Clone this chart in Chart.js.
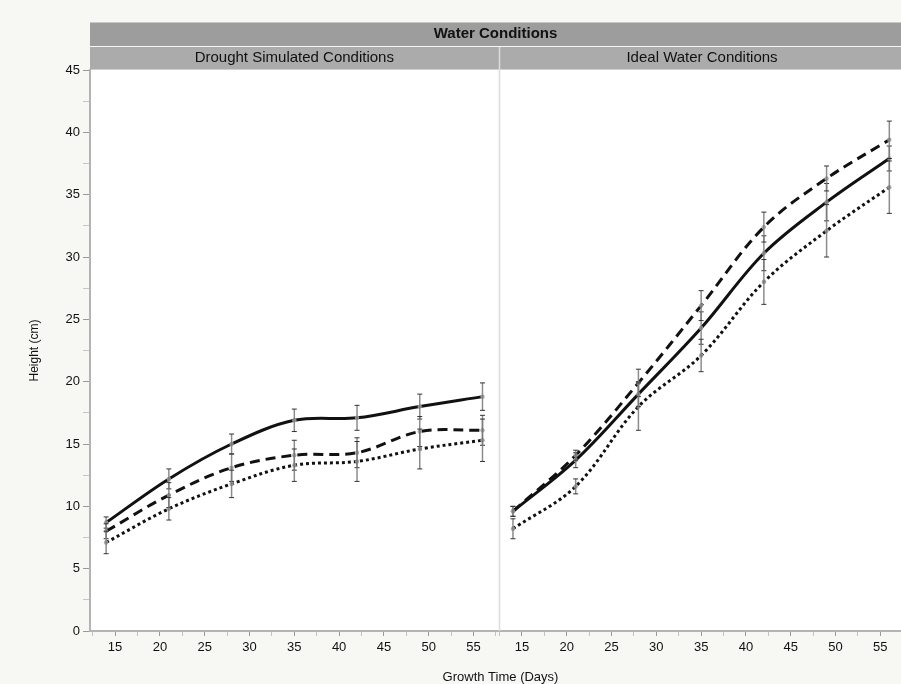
<!DOCTYPE html>
<html>
<head>
<meta charset="utf-8">
<script src="https://cdn.jsdelivr.net/npm/chart.js@4/dist/chart.umd.min.js"></script>
<style>
  html, body { margin: 0; padding: 0; background: #f7f7f3; overflow: hidden; width: 901px; height: 684px; }
  #wrap { position: absolute; left: 0; top: 0; width: 915px; height: 688px; }
</style>
</head>
<body>
<div id="wrap"><canvas id="c"></canvas></div>
<script>
// growth days (same for both panels)
var days = [14, 21, 28, 35, 42, 49, 56];
// each panel covers this day range; right panel sits panelShift days further on one x scale
var panelMin = 12.2, panelMax = 57.8;
var panelShift = 45.4;
var dayTicks = [15, 20, 25, 30, 35, 40, 45, 50, 55];

// drought simulated conditions
var droughtSolid  = [8.7, 12.2, 15.0, 16.9, 17.1, 18.0, 18.8];
var droughtDashed = [8.0, 10.9, 13.1, 14.1, 14.3, 16.0, 16.1];
var droughtDotted = [7.1, 9.8, 11.8, 13.3, 13.6, 14.6, 15.3];
var droughtSolidErr  = [0.45, 0.8, 0.8, 0.9, 1.0, 1.0, 1.1];
var droughtDashedErr = [0.6, 1.0, 1.1, 1.2, 1.2, 1.2, 1.2];
var droughtDottedErr = [0.9, 0.9, 1.1, 1.3, 1.6, 1.6, 1.7];

// ideal water conditions
var idealSolid  = [9.6, 13.7, 19.0, 24.3, 30.3, 34.4, 37.9];
var idealDashed = [9.6, 14.1, 19.9, 26.1, 32.4, 36.3, 39.4];
var idealDotted = [8.2, 11.6, 18.0, 22.1, 28.0, 32.1, 35.6];
var idealSolidErr  = [0.4, 0.6, 1.0, 1.3, 1.4, 1.5, 1.0];
var idealDashedErr = [0.4, 0.4, 1.1, 1.2, 1.2, 1.0, 1.5];
var idealDottedErr = [0.8, 0.6, 1.9, 1.3, 1.8, 2.1, 2.1];

var panelTitles = ['Drought Simulated Conditions', 'Ideal Water Conditions'];
var groupTitle = 'Water Conditions';

var FONT = '"Liberation Sans", Arial, Helvetica, sans-serif';

function pts(vals, shift) {
  return days.map(function (d, i) { return { x: d + shift, y: vals[i] }; });
}

function series(vals, errs, shift, dash) {
  return {
    data: pts(vals, shift),
    err: errs,
    borderColor: '#111',
    borderWidth: 3,
    borderDash: dash,
    tension: 0.35,
    pointRadius: 2.2,
    pointBackgroundColor: 'rgba(160,160,160,0.9)',
    pointBorderWidth: 0,
    fill: false
  };
}

// x ticks: majors at 15..55 and minors halfway, in both panels
function buildDayTicks(scale) {
  var out = [];
  [0, panelShift].forEach(function (s) {
    dayTicks.forEach(function (d) {
      if (d - 2.5 > panelMin) out.push({ value: d - 2.5 + s, major: false });
      out.push({ value: d + s, major: true, day: d });
    });
    out.push({ value: 57.5 + s, major: false });
  });
  scale.ticks = out;
}

// header bands, plot background and panel divider
var framePlugin = {
  id: 'frame',
  beforeDraw: function (chart) {
    var ctx = chart.ctx, a = chart.chartArea, x = chart.scales.x;
    var mid = x.getPixelForValue(panelMax);
    ctx.save();
    ctx.fillStyle = '#fff';
    ctx.fillRect(a.left, a.top, a.right - a.left, a.bottom - a.top);
    // top band
    ctx.fillStyle = '#9d9d9d';
    ctx.fillRect(a.left, a.top - 48, chart.width - a.left, 24);
    ctx.fillStyle = '#c8c8c8';
    ctx.fillRect(a.left, a.top - 48, chart.width - a.left, 1);
    // second band
    ctx.fillStyle = '#ababab';
    ctx.fillRect(a.left, a.top - 23, chart.width - a.left, 22);
    ctx.fillStyle = '#cfcfcf';
    ctx.fillRect(a.left, a.top - 1, chart.width - a.left, 1);
    ctx.fillStyle = '#111';
    ctx.textAlign = 'center';
    ctx.textBaseline = 'middle';
    ctx.font = 'bold 15px ' + FONT;
    ctx.fillText(groupTitle, (a.left + 901) / 2, a.top - 36);
    ctx.font = '15px ' + FONT;
    ctx.fillText(panelTitles[0], (a.left + mid) / 2, a.top - 12);
    ctx.fillText(panelTitles[1], (mid + x.getPixelForValue(panelMax + panelShift)) / 2, a.top - 12);
    ctx.restore();
  },
  afterDraw: function (chart) {
    var ctx = chart.ctx, a = chart.chartArea;
    var mid = Math.round(chart.scales.x.getPixelForValue(panelMax)) + 0.5;
    ctx.save();
    ctx.strokeStyle = '#dcdcdc';
    ctx.lineWidth = 1.5;
    ctx.beginPath();
    ctx.moveTo(mid, a.top - 23);
    ctx.lineTo(mid, a.bottom);
    ctx.stroke();
    ctx.restore();
  }
};

// error bars from each dataset's err array
var errorBarPlugin = {
  id: 'errorBars',
  afterDatasetsDraw: function (chart) {
    var ctx = chart.ctx, xs = chart.scales.x, ys = chart.scales.y;
    ctx.save();
    chart.data.datasets.forEach(function (ds) {
      ds.data.forEach(function (p, i) {
        var e = ds.err[i];
        var px = xs.getPixelForValue(p.x);
        var top = ys.getPixelForValue(p.y + e);
        var bot = ys.getPixelForValue(p.y - e);
        ctx.strokeStyle = 'rgba(120,120,120,0.85)';
        ctx.lineWidth = 1.5;
        ctx.beginPath();
        ctx.moveTo(px, top);
        ctx.lineTo(px, bot);
        ctx.stroke();
        ctx.strokeStyle = '#333';
        ctx.lineWidth = 1;
        ctx.beginPath();
        ctx.moveTo(px - 2.5, top); ctx.lineTo(px + 2.5, top);
        ctx.moveTo(px - 2.5, bot); ctx.lineTo(px + 2.5, bot);
        ctx.stroke();
      });
    });
    ctx.restore();
  }
};

new Chart(document.getElementById('c'), {
  type: 'line',
  data: {
    datasets: [
      series(droughtSolid, droughtSolidErr, 0, []),
      series(droughtDashed, droughtDashedErr, 0, [10, 6]),
      series(droughtDotted, droughtDottedErr, 0, [3, 3]),
      series(idealSolid, idealSolidErr, panelShift, []),
      series(idealDashed, idealDashedErr, panelShift, [10, 6]),
      series(idealDotted, idealDottedErr, panelShift, [3, 3])
    ]
  },
  options: {
    responsive: true,
    maintainAspectRatio: false,
    animation: false,
    layout: { padding: { left: 27, top: 70, right: 0, bottom: 0 } },
    plugins: { legend: { display: false }, tooltip: { enabled: false } },
    scales: {
      x: {
        type: 'linear',
        min: panelMin,
        max: panelMin + 820 / 8.95,
        afterBuildTicks: buildDayTicks,
        afterFit: function (s) { s.height = 57; },
        border: { color: '#b4b4b4', width: 2 },
        grid: {
          drawOnChartArea: false,
          tickLength: 5,
          tickColor: function (c) { return c.tick && c.tick.major ? '#999' : '#c4c4c4'; }
        },
        ticks: {
          autoSkip: false,
          maxRotation: 0,
          padding: 4,
          color: '#111',
          font: { family: FONT, size: 13 },
          callback: function (v, i, ticks) {
            var t = ticks[i];
            return t && t.day ? String(t.day) : '';
          }
        },
        title: {
          display: true,
          text: 'Growth Time (Days)',
          color: '#111',
          font: { family: FONT, size: 13 },
          padding: { top: 0, bottom: 3 }
        }
      },
      y: {
        min: 0,
        max: 45,
        afterFit: function (s) { s.width = 63; },
        border: { color: '#b4b4b4', width: 2 },
        grid: {
          drawOnChartArea: false,
          tickLength: 7,
          tickColor: function (c) { return c.tick && c.tick.value % 5 === 0 ? '#999' : '#c4c4c4'; }
        },
        ticks: {
          stepSize: 2.5,
          autoSkip: false,
          padding: 3,
          color: '#111',
          font: { family: FONT, size: 13 },
          callback: function (v) { return v % 5 === 0 ? String(v) : ''; }
        },
        title: {
          display: true,
          text: 'Height (cm)',
          color: '#111',
          font: { family: FONT, size: 12 },
          padding: { top: 0, bottom: 0 }
        }
      }
    }
  },
  plugins: [framePlugin, errorBarPlugin]
});
</script>
</body>
</html>
